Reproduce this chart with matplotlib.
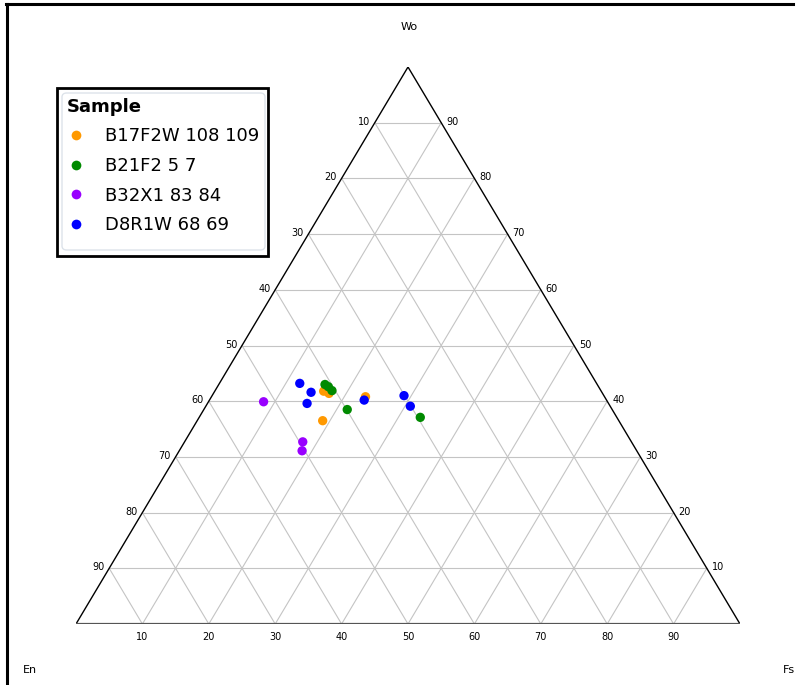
import matplotlib
matplotlib.use("Agg")
import matplotlib.pyplot as plt
from matplotlib.lines import Line2D
from matplotlib.patches import FancyBboxPatch, Rectangle

# ternary readings in percent (Wo and Fs, En is the rest)
samples = ["B17F2W 108 109", "B21F2 5 7", "B32X1 83 84", "D8R1W 68 69"]
colors = ["#ff9900", "#008a00", "#9900ff", "#0000ff"]

orange_wo = [41.8, 41.4, 36.5, 40.8]
orange_fs = [16.4, 17.4, 18.9, 23.2]
green_wo = [43.0, 42.6, 41.9, 38.5, 37.1]
green_fs = [16.0, 16.7, 17.6, 21.6, 33.3]
purple_wo = [39.9, 32.7, 31.1]
purple_fs = [8.3, 17.8, 18.5]
blue_wo = [43.2, 41.6, 39.6, 40.2, 41.0, 39.1]
blue_fs = [12.1, 14.6, 15.0, 23.3, 28.9, 30.8]

series_wo = [orange_wo, green_wo, purple_wo, blue_wo]
series_fs = [orange_fs, green_fs, purple_fs, blue_fs]

tick_values = [10, 20, 30, 40, 50, 60, 70, 80, 90]


def to_xy(wo, fs):
    # cartesian position of a point inside the unit triangle
    x = [f / 100 + w / 200 for w, f in zip(wo, fs)]
    y = [w / 100 for w in wo]
    return x, y


W, H = 797, 685
fig = plt.figure(figsize=(W / 100, H / 100), dpi=100)
ax = fig.add_axes([76 / W, (H - 624) / H, 664 / W, 557 / H])
ax.set_xlim(0, 1)
ax.set_ylim(0, 1)
ax.axis("off")

grid_kw = dict(color="#c4c4c4", lw=0.8, zorder=1)
for t in tick_values:
    v = t / 100
    ax.plot([v / 2, 1 - v / 2], [v, v], **grid_kw)          # constant Wo
    ax.plot([v, v + (1 - v) / 2], [0, 1 - v], **grid_kw)    # constant Fs
    ax.plot([1 - v, (1 - v) / 2], [0, 1 - v], **grid_kw)    # constant En

# triangle outline
ax.plot([0, 0.5, 1], [0, 1, 0], color="black", lw=1.0, zorder=2)
ax.plot([0, 1], [0, 0], color="#555555", lw=1.6, zorder=2)

tk = dict(fontsize=7, color="black", ha="center", va="center")
px, py = 1 / 664, 1 / 557
for t in tick_values:
    v = t / 100
    # left edge: En labels
    ax.text((1 - v) / 2 - 11 * px, 1 - v + 1 * py, str(t), **tk)
    # right edge: Wo labels
    ax.text(1 - v / 2 + 11 * px, v + 1 * py, str(t), **tk)
    # bottom edge: Fs labels
    ax.text(v, -13 * py, str(t), **tk)

fig.text(409 / W, 1 - 27 / H, "Wo", fontsize=8, ha="center", va="center")
fig.text(30 / W, 1 - 670 / H, "En", fontsize=8, ha="center", va="center")
fig.text(789 / W, 1 - 670 / H, "Fs", fontsize=8, ha="center", va="center")

for wo, fs, c in zip(series_wo, series_fs, colors):
    x, y = to_xy(wo, fs)
    ax.scatter(x, y, s=45, color=c, edgecolors="none", zorder=3)

# legend panel: black box with a faint rounded inner border
fig.add_artist(Rectangle((57 / W, 1 - 256 / H), 211 / W, 168 / H,
                         transform=fig.transFigure, facecolor="white",
                         edgecolor="black", lw=2, zorder=8))
fig.add_artist(FancyBboxPatch((62 / W, 1 - 250 / H), 203 / W, 157 / H,
                              boxstyle="round,pad=0,rounding_size=0.006",
                              transform=fig.transFigure, fill=False,
                              edgecolor="#dde3ea", lw=1.0, zorder=9))

handles = [Line2D([], [], ls="none", marker="o", ms=7, color=c, markeredgewidth=0)
           for c in colors]
leg = fig.legend(handles, samples, title="Sample", loc="upper left",
                 bbox_to_anchor=(57 / W, 1 - 88 / H), fontsize=13,
                 title_fontproperties={"weight": "bold", "size": 13},
                 alignment="left", frameon=False,
                 handletextpad=1.1, handlelength=1.0, labelspacing=0.64,
                 borderpad=0.55, borderaxespad=0)
leg.set_zorder(10)

# outer frame (top and left sides)
fig.add_artist(Line2D([7 / W, 7 / W], [0, 1 - 4 / H], color="black", lw=2.2,
                      transform=fig.transFigure))
fig.add_artist(Line2D([6 / W, 793 / W], [1 - 4 / H, 1 - 4 / H], color="black", lw=2.2,
                      transform=fig.transFigure))

fig.savefig("out.png", dpi=100)
